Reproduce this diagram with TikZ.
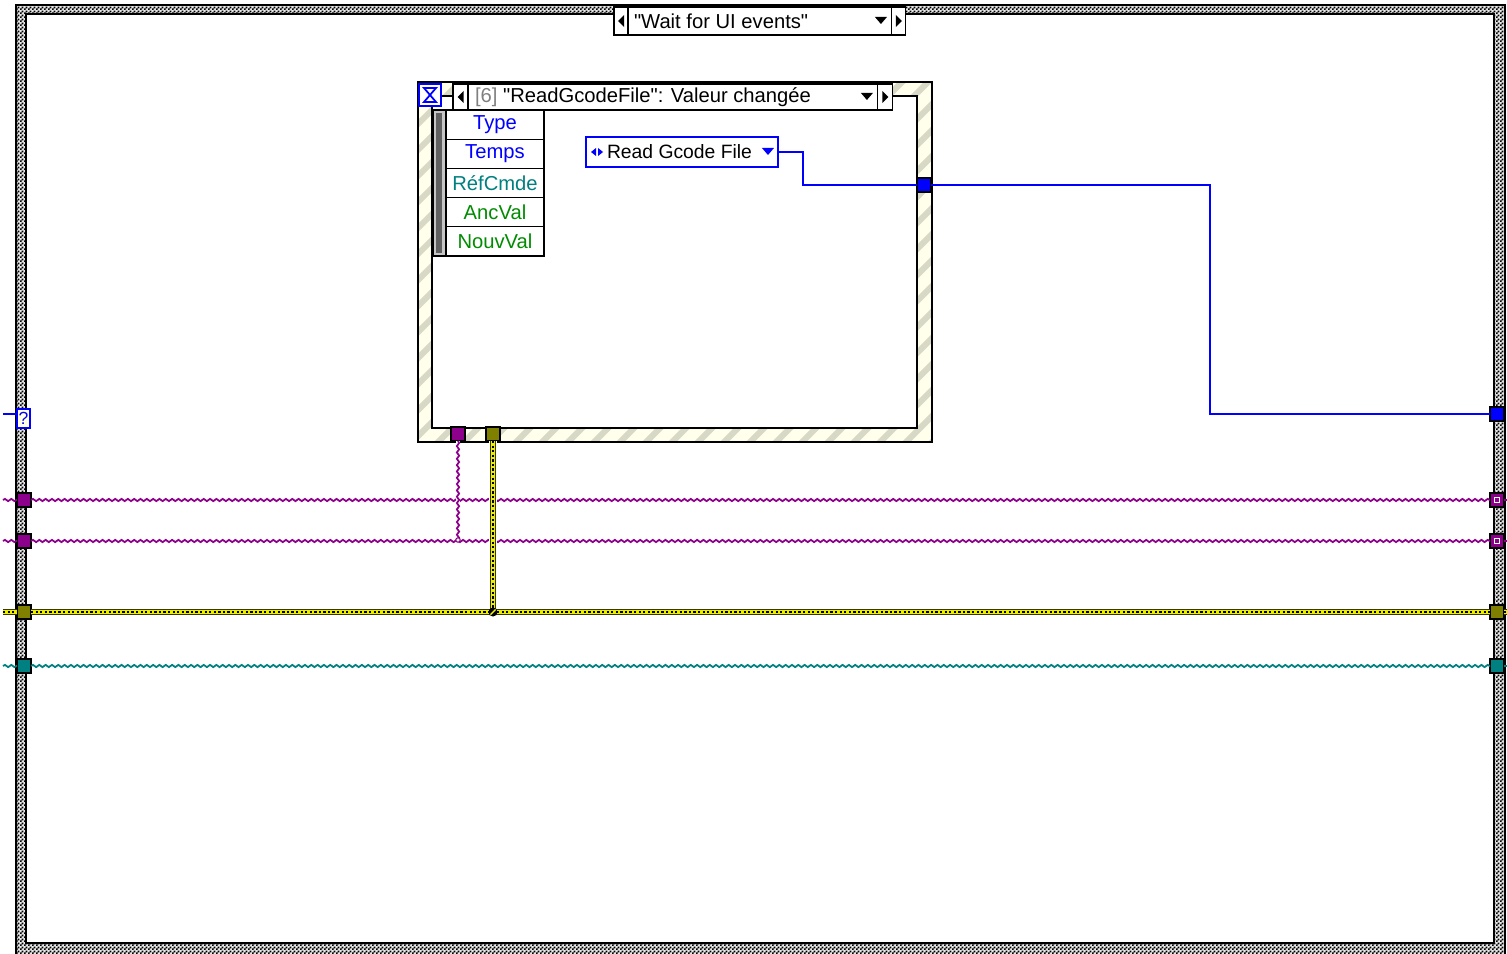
\documentclass[tikz,border=0pt]{standalone}
\usepackage{fontspec}
\setmainfont{Liberation Sans}[Ligatures=TeXOff]
\usetikzlibrary{positioning,patterns,decorations.pathmorphing}

\definecolor{lvblue}{RGB}{0,0,255}
\definecolor{lvpurple}{RGB}{140,0,140}
\definecolor{lvolive}{RGB}{128,128,0}
\definecolor{lvteal}{RGB}{0,128,128}
\definecolor{lvyellow}{RGB}{238,238,0}
\definecolor{lvgreen}{RGB}{0,140,0}
\definecolor{lvcream}{RGB}{255,255,235}
\definecolor{lvstripe}{RGB}{216,216,198}
\definecolor{lvqfill}{RGB}{255,255,225}

% small checker for the loop border
\pgfdeclarepatternformonly{finechecker}{\pgfqpoint{0pt}{0pt}}{\pgfqpoint{2.3pt}{2.3pt}}{\pgfqpoint{2.3pt}{2.3pt}}{%
    \pgfpathrectangle{\pgfqpoint{0pt}{0pt}}{\pgfqpoint{1.15pt}{1.15pt}}%
    \pgfpathrectangle{\pgfqpoint{1.15pt}{1.15pt}}{\pgfqpoint{1.15pt}{1.15pt}}%
    \pgfusepath{fill}}

\begin{document}
\begin{tikzpicture}[
    x=0.02cm, y=-0.02cm,
    every node/.style={outer sep=0pt},
    lbl/.style={inner sep=0pt, font=\fontsize{11.5}{13}\selectfont},
    tunnel/.style={rectangle, draw=black, line width=0.7pt, minimum size=0.28cm, inner sep=0pt},
    selbox/.style={rectangle, draw=black, line width=0.6pt, fill=white, inner sep=0pt},
    datarow/.style={rectangle, draw=black, line width=0.6pt, fill=white, minimum width=1.96cm, minimum height=0.584cm, inner sep=0pt, font=\fontsize{11.5}{13}\selectfont},
    bluewire/.style={draw=lvblue, line width=0.8pt},
    wavewire/.style={line width=1pt, decorate, decoration={snake, amplitude=0.65pt, segment length=3.6pt}},
    errline/.style={draw=black!55!lvolive, line width=2.9pt},
    errwire/.style={draw=lvyellow, line width=1.9pt},
    errdots/.style={draw=black, line width=1.2pt, dash pattern=on 1.3pt off 1.3pt},
    gapwire/.style={draw=white, line width=2.8pt},
]
    \useasboundingbox (0,0) rectangle (1507,953);
    \clip (0,0) rectangle (1507,953);

    % --- Loop border ---
    \fill[white] (0,0) rectangle (1507,953);
    \fill[gray!20, even odd rule] (16,5) rectangle (1505,958) (26,14) rectangle (1494,943);
    \fill[pattern=finechecker, pattern color=black, even odd rule] (16,5) rectangle (1505,958) (26,14) rectangle (1494,943);
    \draw[line width=0.6pt] (16,958) -- (16,5) -- (1505,5) -- (1505,958);
    \draw[line width=0.6pt] (26,14) rectangle (1494,943);

    % --- Case selector ---
    \node[selbox, minimum width=0.28cm, minimum height=0.56cm, anchor=north west] (caseprev) at (614,7) {};
    \node[selbox, minimum width=5.28cm, minimum height=0.56cm, right=0pt of caseprev] (casesel) {};
    \node[selbox, minimum width=0.28cm, minimum height=0.56cm, right=0pt of casesel] (casenext) {};
    \node[lbl, anchor=west] (casetext) at ([xshift=0.12cm]casesel.west) {"Wait for UI events"};
    \fill (caseprev.center) ++(-3,0) -- ++(6,-6) -- ++(0,12) -- cycle;
    \fill (casenext.center) ++(3,0) -- ++(-6,-6) -- ++(0,12) -- cycle;
    \fill (casesel.east) ++(-17,-4) -- ++(12,0) -- ++(-6,7) -- cycle;

    % --- Event structure frame ---
    \begin{scope}[even odd rule]
        \clip (418,82) rectangle (932,442) (432,96) rectangle (917,428);
        \fill[lvcream] (418,82) rectangle (932,442);
        \foreach \s in {30,56,...,960}
            \draw[lvstripe, line width=0.12cm] (\s,460) -- ++(420,-420);
    \end{scope}
    \draw[line width=0.8pt] (418,82) rectangle (932,442);
    \draw[line width=0.8pt] (432,96) rectangle (917,428);

    % --- Timeout icon + event selector ---
    \node[draw=lvblue, fill=white, line width=1.4pt, minimum size=0.44cm, inner sep=0pt, anchor=north west] (hglass) at (419,84) {};
    \draw[lvblue, line width=1pt] (hglass.center) ++(-6,-7) -- ++(12,0) -- ++(-12,14) -- ++(12,0) -- cycle;
    \node[selbox, minimum width=0.3cm, minimum height=0.52cm, anchor=north west] (evprev) at (453,84) {};
    \node[selbox, minimum width=8.2cm, minimum height=0.52cm, right=0pt of evprev] (evsel) {};
    \node[selbox, minimum width=0.3cm, minimum height=0.52cm, right=0pt of evsel] (evnext) {};
    \node[lbl, anchor=west] (evtext) at ([xshift=0.14cm]evsel.west) {\textcolor{gray}{[6]} "ReadGcodeFile": Valeur changée};
    \fill (evprev.center) ++(-3,0) -- ++(6,-6) -- ++(0,12) -- cycle;
    \fill (evnext.center) ++(3,0) -- ++(-6,-6) -- ++(0,12) -- cycle;
    \fill (evsel.east) ++(-17,-4) -- ++(12,0) -- ++(-6,7) -- cycle;

    % --- Event data node ---
    \fill[gray!45] (433,110) rectangle (446,256);
    \fill[gray!75!black] (436,113) rectangle (442,253);
    \draw[line width=0.6pt] (433,110) rectangle (446,256);
    \node[datarow, anchor=north west, text=lvblue] (dtype) at (446,110) {Type};
    \node[datarow, below=0pt of dtype, text=lvblue] (dtemps) {Temps};
    \node[datarow, below=0pt of dtemps, text=lvteal] (dref) {RéfCmde};
    \node[datarow, below=0pt of dref, text=lvgreen] (dold) {AncVal};
    \node[datarow, below=0pt of dold, text=lvgreen] (dnew) {NouvVal};

    % --- Enum constant ---
    \node[draw=lvblue, line width=1.3pt, fill=white, minimum width=3.84cm, minimum height=0.6cm, anchor=north west] (gcode) at (586,137) {};
    \node[lbl, anchor=west, font=\fontsize{11}{12}\selectfont] (gcodetext) at ([xshift=0.42cm]gcode.west) {Read Gcode File};
    \fill[lvblue] (gcode.west) ++(5,0) -- ++(5,-4) -- ++(0,8) -- cycle;
    \fill[lvblue] (gcode.west) ++(17,0) -- ++(-5,-4) -- ++(0,8) -- cycle;
    \fill[lvblue] (gcode.east) ++(-16,-4) -- ++(12,0) -- ++(-6,7) -- cycle;

    % --- Tunnels ---
    \node[tunnel, fill=lvblue] (evout) at (924,185) {};
    \node[tunnel, fill=lvblue] (rblue) at (1497,414) {};
    \node[tunnel, fill=lvpurple] (evref) at (458,434) {};
    \node[tunnel, fill=lvolive] (everr) at (493,434) {};
    \node[draw=lvblue, line width=0.7pt, fill=lvqfill, minimum width=0.26cm, minimum height=0.38cm, inner sep=0pt, text=lvblue, font=\fontsize{10}{12}\selectfont] (qsel) at (23.5,418.5) {?};
    \node[tunnel, fill=lvpurple] (lref1) at (24,500) {};
    \node[tunnel, fill=lvpurple] (lref2) at (24,541) {};
    \node[tunnel, fill=lvolive] (lerr) at (24,612) {};
    \node[tunnel, fill=lvteal] (lvar) at (24,666) {};
    \node[tunnel, fill=lvpurple] (rref1) at (1497,500) {};
    \node[tunnel, fill=lvpurple] (rref2) at (1497,541) {};
    \node[tunnel, fill=lvolive] (rerr) at (1497,612) {};
    \node[tunnel, fill=lvteal] (rvar) at (1497,666) {};
    \draw[white, fill=lvpurple, line width=0.8pt] (rref1.center) ++(-2.5,-2.5) rectangle ++(5,5);
    \draw[white, fill=lvpurple, line width=0.8pt] (rref2.center) ++(-2.5,-2.5) rectangle ++(5,5);

    % --- Wire stubs outside the loop ---
    \coordinate (bstub) at (3,414);
    \coordinate (lstub1) at (3,500);
    \coordinate (lstub2) at (3,541);
    \coordinate (lstub3) at (3,612);
    \coordinate (lstub4) at (3,666);
    \coordinate (rstub1) at (1507,500);
    \coordinate (rstub2) at (1507,541);
    \coordinate (rstub3) at (1507,612);
    \coordinate (rstub4) at (1507,666);
    \coordinate (refjoin) at (458,540);
    \coordinate (errjoin) at (493,612);

    % --- Wires ---
    \draw[bluewire] (bstub) -- (bstub -| qsel.west);
    \draw[bluewire] (gcode.east) -- ++(25,0) |- (evout.west);
    \draw[bluewire] (evout.east) -- ++(279,0) |- (rblue.west);

    \draw[wavewire, lvpurple] (lstub1) -- (lref1.west);
    \draw[wavewire, lvpurple] (lref1.east) -- (rref1.west);
    \draw[wavewire, lvpurple] (rref1.east) -- (rstub1);
    \draw[wavewire, lvpurple] (lstub2) -- (lref2.west);
    \draw[wavewire, lvpurple] (lref2.east) -- (rref2.west);
    \draw[wavewire, lvpurple] (rref2.east) -- (rstub2);
    \draw[wavewire, lvteal] (lstub4) -- (lvar.west);
    \draw[wavewire, lvteal] (lvar.east) -- (rvar.west);
    \draw[wavewire, lvteal] (rvar.east) -- (rstub4);
    \foreach \a/\b in {lstub3/lerr.west, lerr.east/rerr.west, rerr.east/rstub3} {
        \draw[errline] (\a) -- (\b);
        \draw[errwire] (\a) -- (\b);
        \draw[errdots] (\a) -- (\b);
    }

    % crossings + wires out of the event structure
    \draw[gapwire] (evref.south) -- ++(0,92);
    \draw[gapwire, line width=4pt] (everr.south) -- ++(0,166);
    \draw[wavewire, lvpurple] (evref.south) -- (refjoin);
    \draw[errline] (everr.south) -- (errjoin);
    \draw[errwire] (everr.south) -- (errjoin);
    \draw[errdots] (everr.south) -- (errjoin);
    \draw[lvpurple, fill=white, line width=0.6pt] (refjoin) circle (2.2);
    \fill[black] (errjoin) circle (4.5);
    \draw[lvyellow, line width=0.8pt] (errjoin) ++(-2.5,2.5) -- ++(5,-5);
\end{tikzpicture}
\end{document}
